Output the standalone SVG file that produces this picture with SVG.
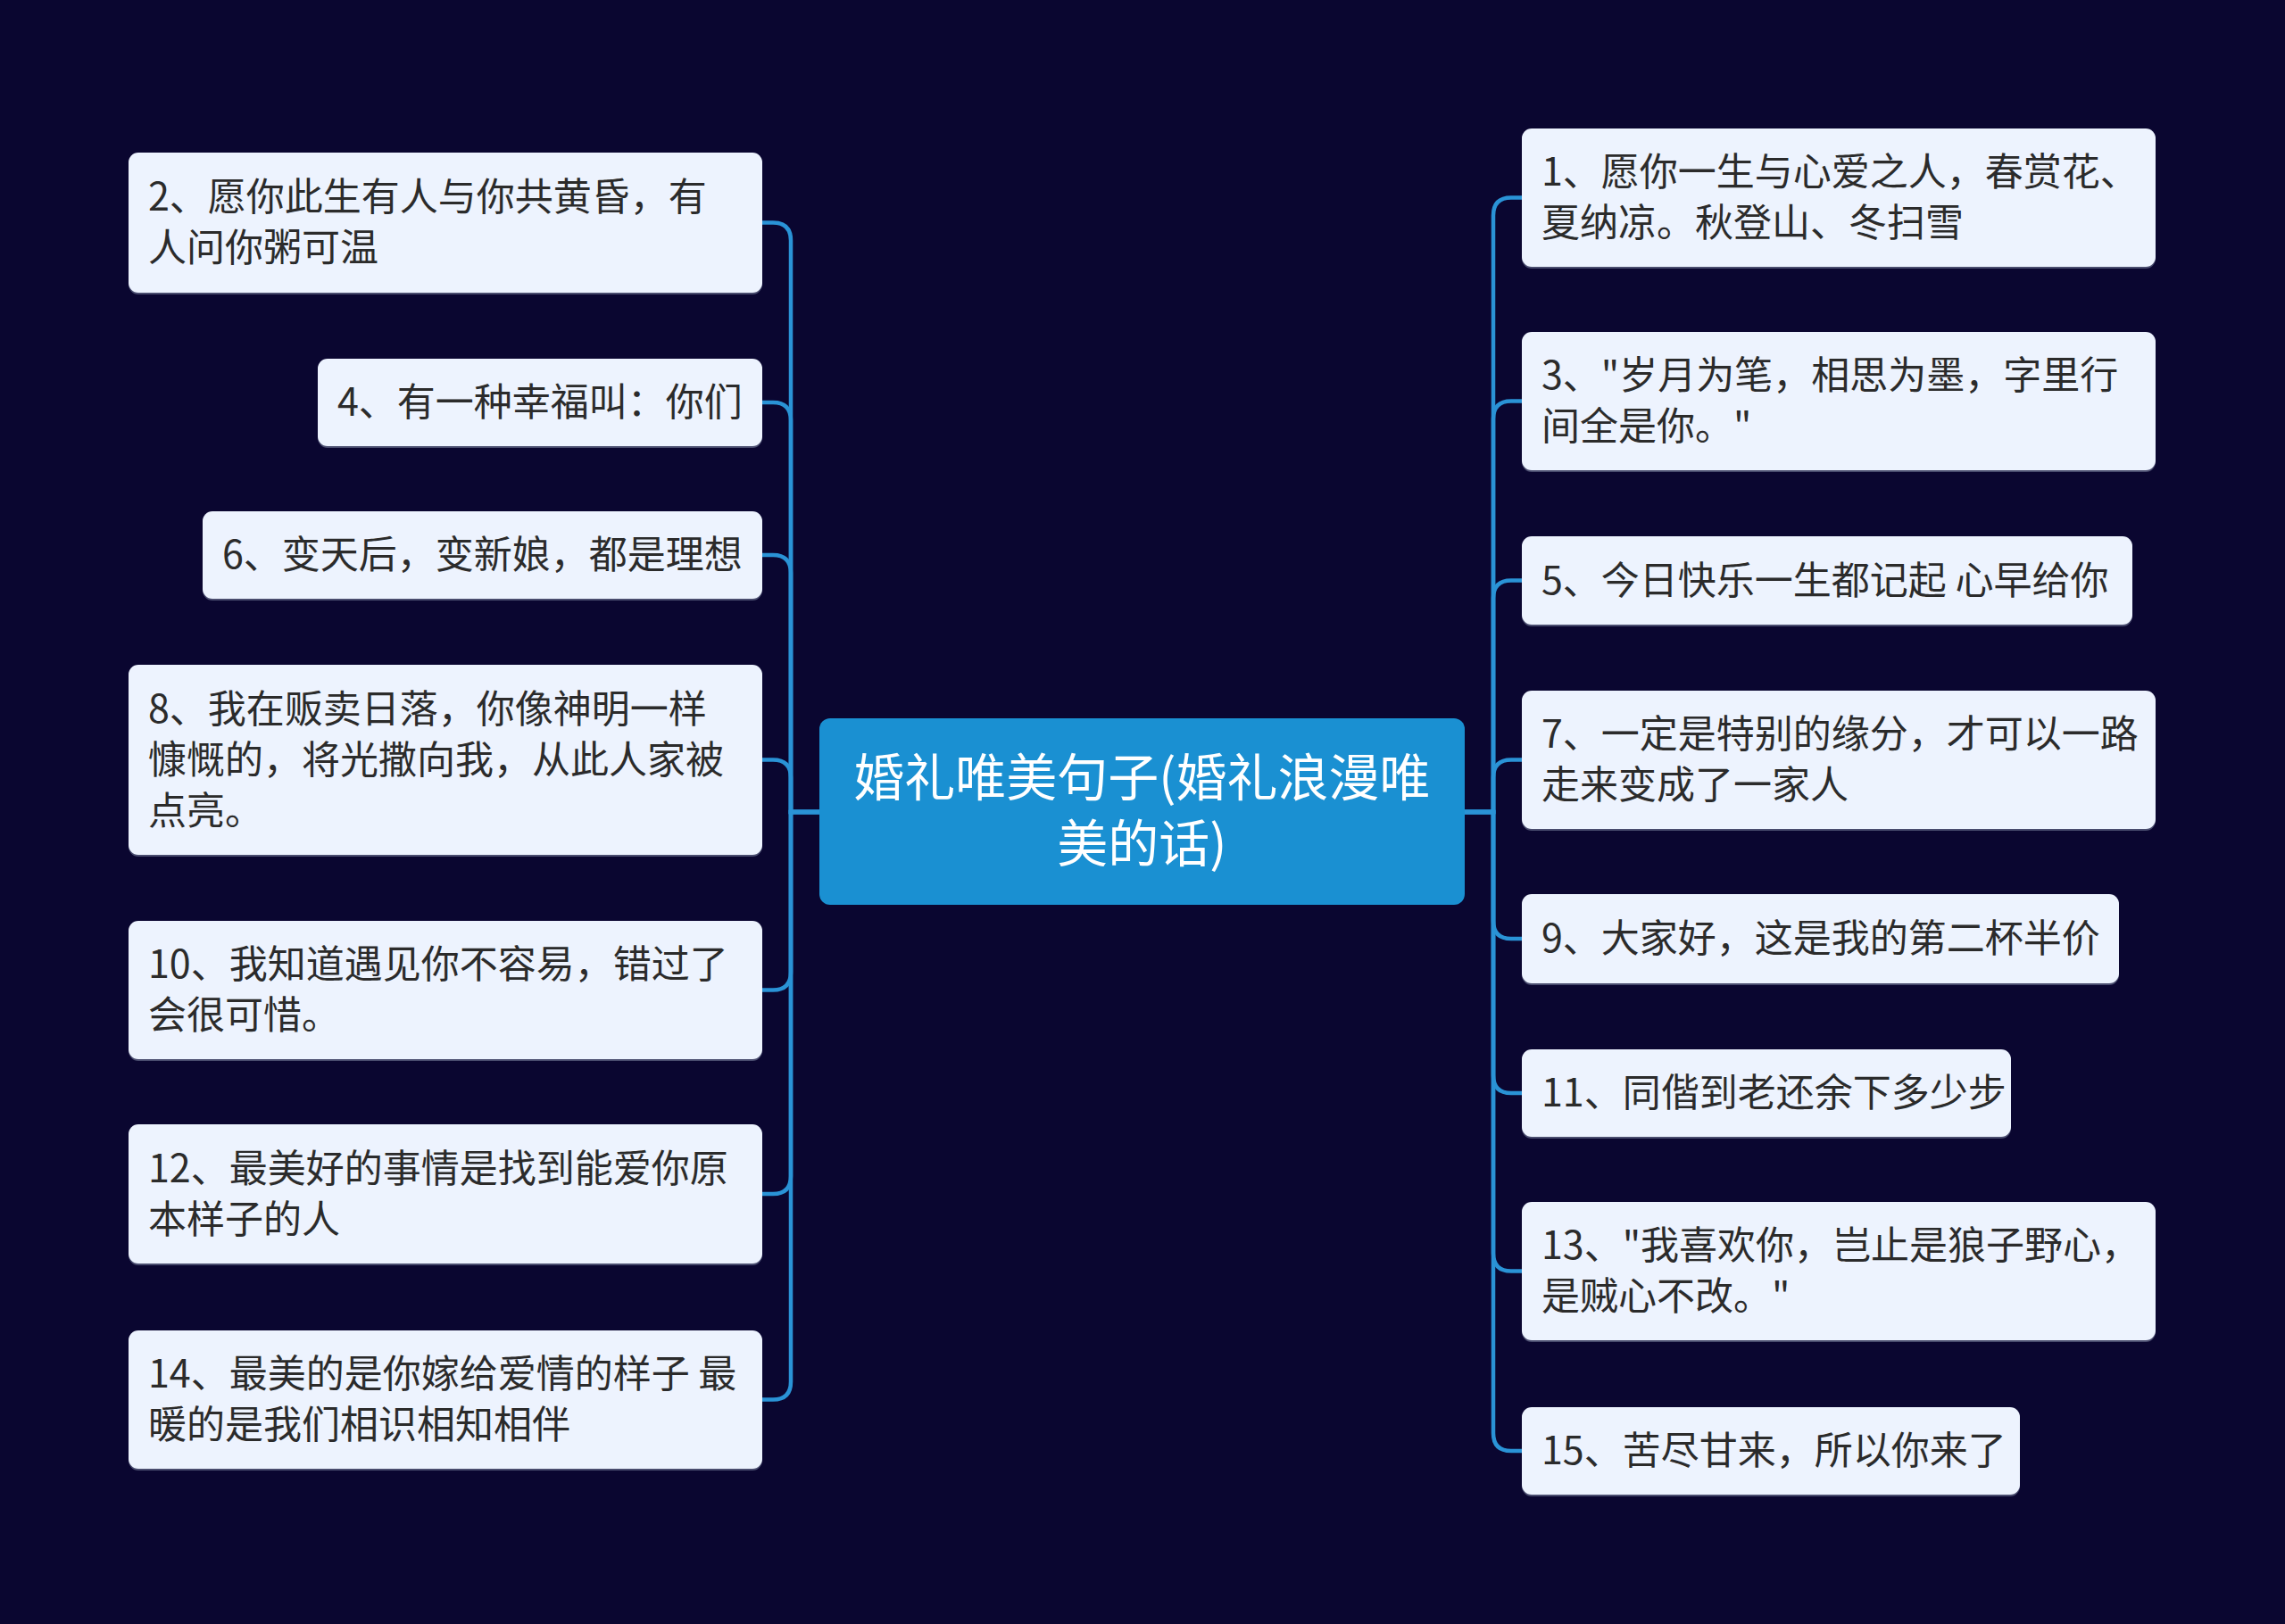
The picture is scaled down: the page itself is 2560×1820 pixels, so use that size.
<svg xmlns="http://www.w3.org/2000/svg" width="2560" height="1820" viewBox="0 0 2560 1820">
<style>
.bg{fill:#0a0630}
.node rect.box{fill:#edf3fe}
.node rect.sh{fill:#7d86a3;opacity:0.55}
.node text{font-family:"Noto Sans CJK SC","Noto Sans",sans-serif;font-size:43px;fill:#2b2b2b}
.root rect{fill:#1a90d2}
.root text{font-family:"Noto Sans CJK SC","Noto Sans",sans-serif;font-size:57px;fill:#ffffff;text-anchor:middle}
.conn path{fill:none;stroke:#2a93d6;stroke-width:4.5;stroke-linecap:round}
</style>
<rect class="bg" x="0" y="0" width="2560" height="1820"/>
<g id="connectors" class="conn">
<path d="M918,910 H886 V269.5 Q886,249.5 866,249.5 H854"/>
<path d="M918,910 H886 V471 Q886,451 866,451 H854"/>
<path d="M918,910 H886 V642 Q886,622 866,622 H854"/>
<path d="M918,910 H886 V871.5 Q886,851.5 866,851.5 H854"/>
<path d="M918,910 H886 V1089.5 Q886,1109.5 866,1109.5 H854"/>
<path d="M918,910 H886 V1318 Q886,1338 866,1338 H854"/>
<path d="M918,910 H886 V1548.5 Q886,1568.5 866,1568.5 H854"/>
<path d="M1641,910 H1673 V241.5 Q1673,221.5 1693,221.5 H1705"/>
<path d="M1641,910 H1673 V469.5 Q1673,449.5 1693,449.5 H1705"/>
<path d="M1641,910 H1673 V670.5 Q1673,650.5 1693,650.5 H1705"/>
<path d="M1641,910 H1673 V871.5 Q1673,851.5 1693,851.5 H1705"/>
<path d="M1641,910 H1673 V1032 Q1673,1052 1693,1052 H1705"/>
<path d="M1641,910 H1673 V1205 Q1673,1225 1693,1225 H1705"/>
<path d="M1641,910 H1673 V1404.5 Q1673,1424.5 1693,1424.5 H1705"/>
<path d="M1641,910 H1673 V1606 Q1673,1626 1693,1626 H1705"/>
</g>
<g id="root" class="root">
<rect x="918" y="805" width="723" height="209" rx="12"/>
<text x="1279.5" y="892">婚礼唯美句子(婚礼浪漫唯</text>
<text x="1279.5" y="966">美的话)</text>
</g>
<g id="n2" class="node">
<rect class="sh" x="144" y="173" width="710" height="157" rx="11"/>
<rect class="box" x="144" y="171" width="710" height="157" rx="11"/>
<text x="166" y="236">2、愿你此生有人与你共黄昏，有</text>
<text x="166" y="293">人问你粥可温</text>
</g>
<g id="n4" class="node">
<rect class="sh" x="356" y="404" width="498" height="98" rx="11"/>
<rect class="box" x="356" y="402" width="498" height="98" rx="11"/>
<text x="378" y="466">4、有一种幸福叫：你们</text>
</g>
<g id="n6" class="node">
<rect class="sh" x="227" y="575" width="627" height="98" rx="11"/>
<rect class="box" x="227" y="573" width="627" height="98" rx="11"/>
<text x="249" y="637">6、变天后，变新娘，都是理想</text>
</g>
<g id="n8" class="node">
<rect class="sh" x="144" y="747" width="710" height="213" rx="11"/>
<rect class="box" x="144" y="745" width="710" height="213" rx="11"/>
<text x="166" y="809.5">8、我在贩卖日落，你像神明一样</text>
<text x="166" y="866.5">慷慨的，将光撒向我，从此人家被</text>
<text x="166" y="923.5">点亮。</text>
</g>
<g id="n10" class="node">
<rect class="sh" x="144" y="1034" width="710" height="155" rx="11"/>
<rect class="box" x="144" y="1032" width="710" height="155" rx="11"/>
<text x="166" y="1096">10、我知道遇见你不容易，错过了</text>
<text x="166" y="1153">会很可惜。</text>
</g>
<g id="n12" class="node">
<rect class="sh" x="144" y="1262" width="710" height="156" rx="11"/>
<rect class="box" x="144" y="1260" width="710" height="156" rx="11"/>
<text x="166" y="1324.5">12、最美好的事情是找到能爱你原</text>
<text x="166" y="1381.5">本样子的人</text>
</g>
<g id="n14" class="node">
<rect class="sh" x="144" y="1493" width="710" height="155" rx="11"/>
<rect class="box" x="144" y="1491" width="710" height="155" rx="11"/>
<text x="166" y="1555">14、最美的是你嫁给爱情的样子 最</text>
<text x="166" y="1612">暖的是我们相识相知相伴</text>
</g>
<g id="n1" class="node">
<rect class="sh" x="1705" y="146" width="710" height="155" rx="11"/>
<rect class="box" x="1705" y="144" width="710" height="155" rx="11"/>
<text x="1727" y="208">1、愿你一生与心爱之人，春赏花、</text>
<text x="1727" y="265">夏纳凉。秋登山、冬扫雪</text>
</g>
<g id="n3" class="node">
<rect class="sh" x="1705" y="374" width="710" height="155" rx="11"/>
<rect class="box" x="1705" y="372" width="710" height="155" rx="11"/>
<text x="1727" y="436">3、"岁月为笔，相思为墨，字里行</text>
<text x="1727" y="493">间全是你。"</text>
</g>
<g id="n5" class="node">
<rect class="sh" x="1705" y="603" width="684" height="99" rx="11"/>
<rect class="box" x="1705" y="601" width="684" height="99" rx="11"/>
<text x="1727" y="665.5">5、今日快乐一生都记起 心早给你</text>
</g>
<g id="n7" class="node">
<rect class="sh" x="1705" y="776" width="710" height="155" rx="11"/>
<rect class="box" x="1705" y="774" width="710" height="155" rx="11"/>
<text x="1727" y="838">7、一定是特别的缘分，才可以一路</text>
<text x="1727" y="895">走来变成了一家人</text>
</g>
<g id="n9" class="node">
<rect class="sh" x="1705" y="1004" width="669" height="100" rx="11"/>
<rect class="box" x="1705" y="1002" width="669" height="100" rx="11"/>
<text x="1727" y="1067">9、大家好，这是我的第二杯半价</text>
</g>
<g id="n11" class="node">
<rect class="sh" x="1705" y="1178" width="548" height="98" rx="11"/>
<rect class="box" x="1705" y="1176" width="548" height="98" rx="11"/>
<text x="1727" y="1240">11、同偕到老还余下多少步</text>
</g>
<g id="n13" class="node">
<rect class="sh" x="1705" y="1349" width="710" height="155" rx="11"/>
<rect class="box" x="1705" y="1347" width="710" height="155" rx="11"/>
<text x="1727" y="1411">13、"我喜欢你，岂止是狼子野心，</text>
<text x="1727" y="1468">是贼心不改。"</text>
</g>
<g id="n15" class="node">
<rect class="sh" x="1705" y="1579" width="558" height="98" rx="11"/>
<rect class="box" x="1705" y="1577" width="558" height="98" rx="11"/>
<text x="1727" y="1641">15、苦尽甘来，所以你来了</text>
</g>
</svg>
